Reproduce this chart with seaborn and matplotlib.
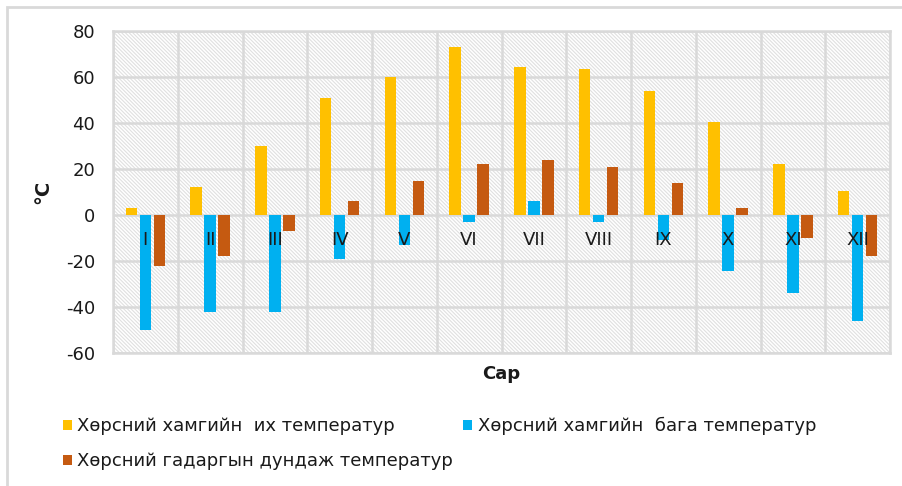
import pandas as pd
import numpy as np
import matplotlib
matplotlib.use('Agg')
import matplotlib.pyplot as plt
from matplotlib.patches import Rectangle
import seaborn as sns

# data
months = ['I', 'II', 'III', 'IV', 'V', 'VI', 'VII', 'VIII', 'IX', 'X', 'XI', 'XII']
t_max = [3, 12, 30, 51, 60, 73, 64.5, 63.5, 54, 40.5, 22, 10.5]
t_min = [-50, -42, -42, -19, -13, -3, 6, -3, -11, -24.5, -34, -46]
t_avg = [-22, -18, -7, 6, 15, 22, 24, 21, 14, 3, -10, -18]
series_names = ['Хөрсний хамгийн  их температур',
                'Хөрсний хамгийн  бага температур',
                'Хөрсний гадаргын дундаж температур']
colors = ['#FFC000', '#00B0F0', '#C55A11']

df = pd.DataFrame({
    'month': months * 3,
    'value': t_max + t_min + t_avg,
    'series': [series_names[0]] * 12 + [series_names[1]] * 12 + [series_names[2]] * 12,
})

sns.set_style('white')
plt.rcParams['font.family'] = ['DejaVu Sans']
plt.rcParams['axes.unicode_minus'] = False
plt.rcParams['hatch.linewidth'] = 0.8

fig = plt.figure(figsize=(9.02, 4.86), dpi=100)
ax = fig.add_axes([113 / 902, 1 - 353 / 486, (890 - 113) / 902, (353 - 31) / 486])

# hatched background
ax.add_patch(Rectangle((0, 0), 1, 1, transform=ax.transAxes, facecolor='white',
                       edgecolor='#e0e0e0', hatch='\\' * 9, lw=0, zorder=0))

sns.barplot(data=df, x='month', y='value', hue='series', palette=colors,
            width=0.65, gap=0.17, saturation=1, linewidth=0, ax=ax, zorder=3)

ax.set_ylim(-60, 80)
ax.set_xlim(-0.5, 11.5)
ax.set_yticks(np.arange(-60, 81, 20))
ax.set_xticks(np.arange(-0.5, 12, 1), minor=True)
ax.set_xticks([])
ax.set_axisbelow(True)
ax.grid(True, which='major', axis='y', color='#d9d9d9', lw=1.8)
ax.grid(True, which='minor', axis='x', color='#d9d9d9', lw=1.8)
ax.tick_params(axis='y', length=0, pad=13, labelsize=13, labelcolor='#1a1a1a')
ax.tick_params(axis='x', which='both', length=0)
for s in ax.spines.values():
    s.set_color('#d9d9d9')
    s.set_linewidth(1.8)

# month names sit just below the zero line
for i, m in enumerate(months):
    ax.text(i, -11, m, ha='center', va='center', fontsize=13, color='#1a1a1a', zorder=5)

ax.set_xlabel('Сар', fontsize=13, fontweight='bold', labelpad=5, color='#1a1a1a')
ax.set_ylabel('°C', fontsize=14, fontweight='bold', labelpad=10, color='#1a1a1a')

handles, labels = ax.get_legend_handles_labels()
order = [0, 2, 1]
leg = ax.legend([handles[i] for i in order], [labels[i] for i in order],
                loc='upper left', bbox_to_anchor=(63 / 902, 1 - 417 / 486),
                bbox_transform=fig.transFigure, ncol=2, frameon=False, fontsize=13,
                handlelength=0.5, handleheight=0.5, handletextpad=0.3,
                columnspacing=0.55, labelspacing=0.95, borderpad=0, borderaxespad=0)
for t in leg.get_texts():
    t.set_color('#1a1a1a')

# light frame around the chart area
fig.add_artist(Rectangle((7 / 902, -0.1), 1.1, 1.1 - 7 / 486, transform=fig.transFigure,
                         fill=False, edgecolor='#d9d9d9', lw=2))

fig.savefig('out.png', dpi=100)
